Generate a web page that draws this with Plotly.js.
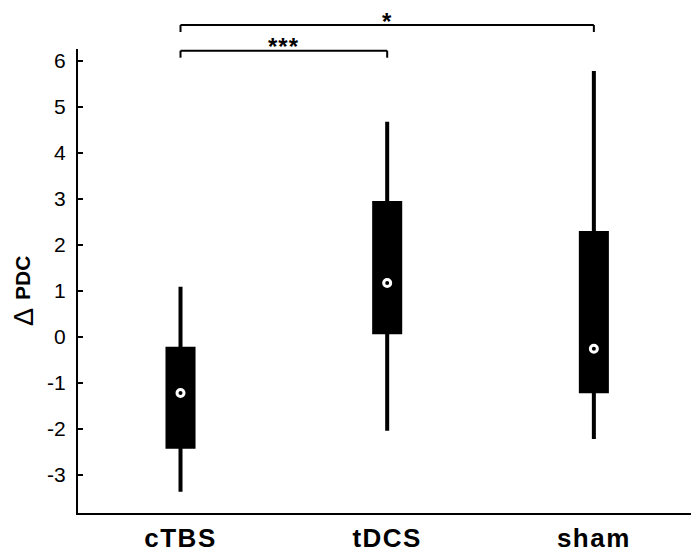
<!DOCTYPE html>
<html>
<head>
<meta charset="utf-8">
<script src="https://cdn.plot.ly/plotly-3.0.1.min.js"></script>
<style>html,body{margin:0;padding:0;background:#fff;}#chart{width:691px;height:554px;}</style>
</head>
<body>
<div id="chart"></div>
<script>
// Data
var categories = ["cTBS", "tDCS", "sham"];
var upperWhisker = [1.09, 4.68, 5.78];
var q3Values = [-0.26, 2.91, 2.26];
var medians = [-1.22, 1.17, -0.26];
var q1Values = [-2.39, 0.10, -1.18];
var lowerWhisker = [-3.37, -2.04, -2.22];
var yTickValues = [-3, -2, -1, 0, 1, 2, 3, 4, 5, 6];
var yTickLabels = ["-3", "-2", "-1", "0", "1", "2", "3", "4", "5", "6"];
var sigPairs = [[0, 2], [0, 1]];
var sigLabels = ["*", "***"];

var xpos = categories.map(function (c, i) { return i; });

var boxTrace = {
  type: "box",
  x: xpos,
  q1: q1Values,
  median: medians,
  q3: q3Values,
  lowerfence: lowerWhisker,
  upperfence: upperWhisker,
  width: 0.126,
  whiskerwidth: 0,
  fillcolor: "#000000",
  line: { color: "#000000", width: 4 },
  hoverinfo: "skip",
  showlegend: false
};

var medianTrace = {
  type: "scatter",
  mode: "markers",
  x: xpos,
  y: medians,
  marker: { symbol: "circle-open", size: 7, color: "#ffffff", line: { color: "#ffffff", width: 3 } },
  hoverinfo: "skip",
  showlegend: false
};

var H = 464; // plot height in px
function py(px) { return (513 - px) / H; }

var barLevels = [25, 50.7];
var starLevels = [21, 47];
var shapes = [];
var annotations = [];
sigPairs.forEach(function (p, i) {
  var yb = py(barLevels[i]);
  var yt = py(barLevels[i] + 7);
  shapes.push({ type: "line", xref: "x", yref: "paper", x0: xpos[p[0]], x1: xpos[p[1]], y0: yb, y1: yb, line: { color: "#000", width: 2 } });
  shapes.push({ type: "line", xref: "x", yref: "paper", x0: xpos[p[0]], x1: xpos[p[0]], y0: yb, y1: yt, line: { color: "#000", width: 2 } });
  shapes.push({ type: "line", xref: "x", yref: "paper", x0: xpos[p[1]], x1: xpos[p[1]], y0: yb, y1: yt, line: { color: "#000", width: 2 } });
  annotations.push({
    xref: "x", yref: "paper",
    x: (xpos[p[0]] + xpos[p[1]]) / 2, y: py(starLevels[i]),
    text: '<b><span style="letter-spacing:1px">' + sigLabels[i] + '</span></b>', showarrow: false,
    xanchor: "center", yanchor: "middle",
    font: { family: "Liberation Sans, Arial, sans-serif", size: 24, color: "#000" }
  });
});

// y-axis title: delta symbol and PDC, each centred on the same vertical line
annotations.push({
  xref: "paper", yref: "paper",
  x: (24 - 78) / 613, y: py(317),
  text: "\u0394",
  textangle: -90, showarrow: false,
  xanchor: "center", yanchor: "middle",
  font: { family: "Liberation Sans, Arial, sans-serif", size: 27, color: "#000" }
});
annotations.push({
  xref: "paper", yref: "paper",
  x: (22 - 78) / 613, y: py(278),
  text: "<b>PDC</b>",
  textangle: -90, showarrow: false,
  xanchor: "center", yanchor: "middle",
  font: { family: "Liberation Sans, Arial, sans-serif", size: 21, color: "#000" }
});

var layout = {
  width: 691, height: 554,
  margin: { l: 78, r: 0, t: 49, b: 41 },
  paper_bgcolor: "#ffffff",
  plot_bgcolor: "#ffffff",
  showlegend: false,
  xaxis: {
    range: [-0.496, 2.47],
    tickvals: xpos,
    ticktext: categories.map(function (c) { return '<span style="letter-spacing:1.5px">' + c + '</span>'; }),
    showline: true, linecolor: "#000", linewidth: 2,
    showgrid: false, zeroline: false, ticks: "",
    tickfont: { family: "Liberation Sans, Arial, sans-serif", size: 26, weight: "bold", color: "#000" },
    ticklabelstandoff: 1
  },
  yaxis: {
    range: [-3.83, 6.26],
    tickvals: yTickValues,
    ticktext: yTickLabels,
    showline: true, linecolor: "#000", linewidth: 2,
    showgrid: false, zeroline: false,
    ticks: "inside", ticklen: 5, tickwidth: 2, tickcolor: "#000",
    tickfont: { family: "Liberation Sans, Arial, sans-serif", size: 21, color: "#000" },
    ticklabelstandoff: 6
  },
  shapes: shapes,
  annotations: annotations
};

Plotly.newPlot("chart", [boxTrace, medianTrace], layout, { displayModeBar: false, staticPlot: true });
</script>
</body>
</html>
